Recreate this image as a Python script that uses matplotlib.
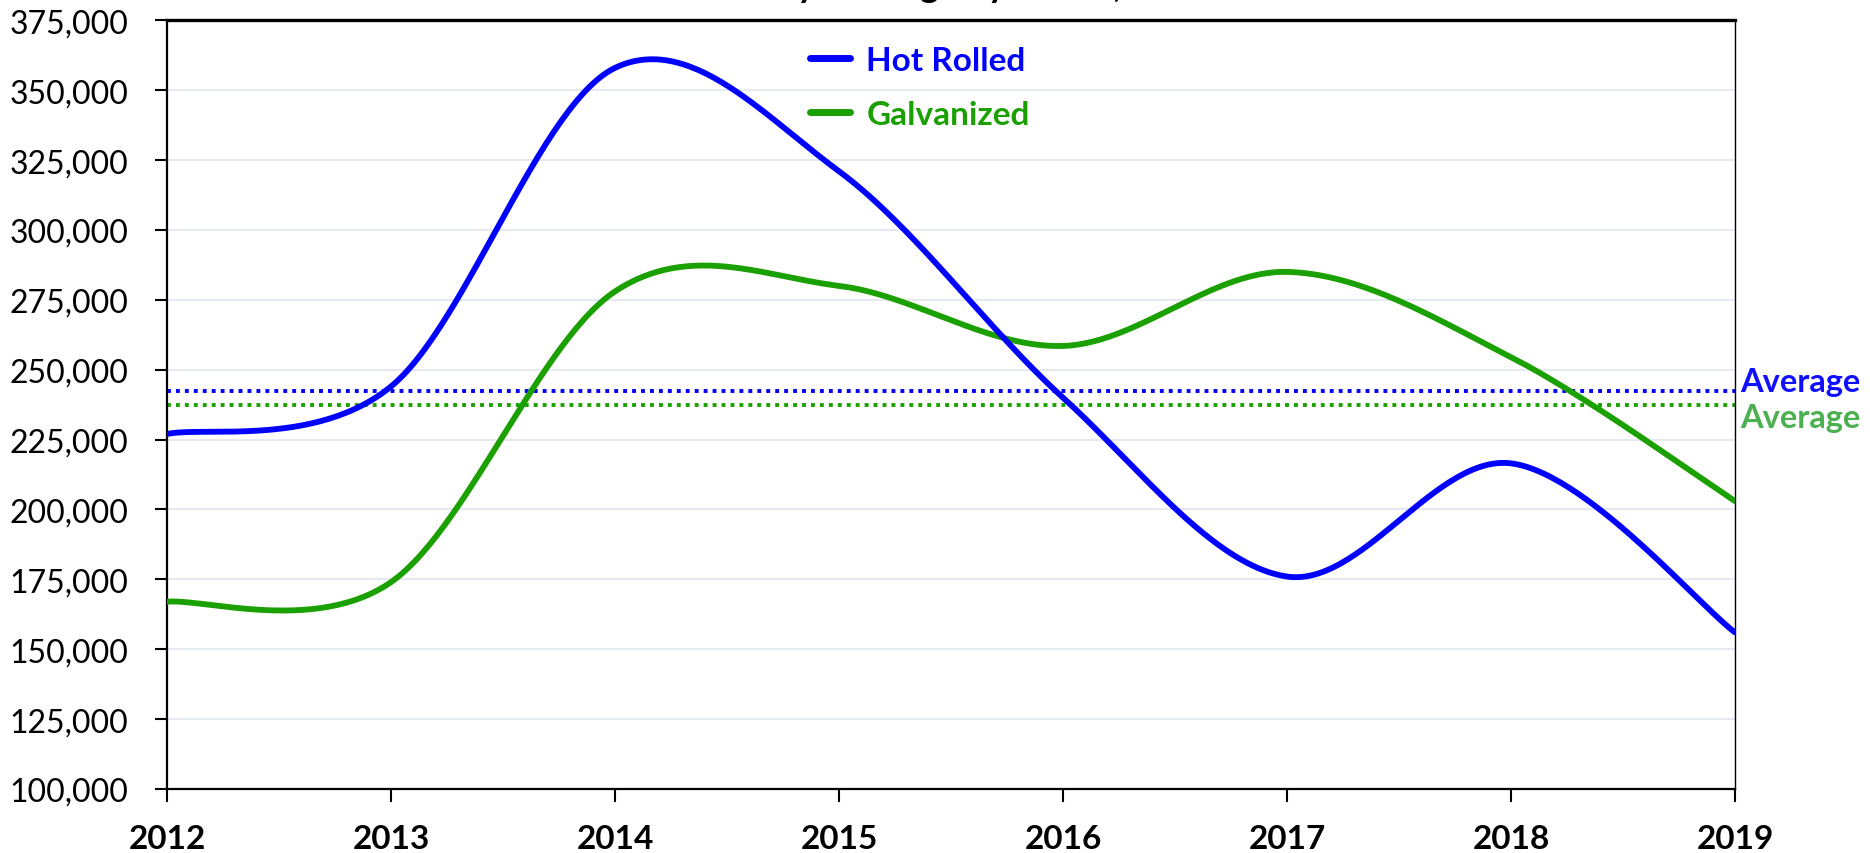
import numpy as np
import matplotlib
matplotlib.use("Agg")
import matplotlib.pyplot as plt
from matplotlib.ticker import FuncFormatter, MultipleLocator

plt.rcParams["font.family"] = ["Lato", "DejaVu Sans"]

years = [2012, 2013, 2014, 2015, 2016, 2017, 2018, 2019]
hot_rolled = [227000, 244000, 358000, 321000, 240000, 176000, 216500, 156000]
galvanized = [167000, 174000, 278000, 280000, 258500, 285000, 254500, 203000]

BLUE = "#0000ff"
GREEN = "#1aa000"


def excel_smooth(x, y, n=60):
    """Bezier smoothing like Excel's 'smoothed line' (Catmull-Rom controls)."""
    x = np.asarray(x, float)
    y = np.asarray(y, float)
    px = np.concatenate([[x[0]], x, [x[-1]]])
    py = np.concatenate([[y[0]], y, [y[-1]]])
    t = np.linspace(0, 1, n)
    xs, ys = [], []
    for i in range(len(x) - 1):
        p0 = np.array([px[i + 1], py[i + 1]])
        p3 = np.array([px[i + 2], py[i + 2]])
        c1 = p0 + (np.array([px[i + 2], py[i + 2]]) - np.array([px[i], py[i]])) / 6
        c2 = p3 - (np.array([px[i + 3], py[i + 3]]) - np.array([px[i + 1], py[i + 1]])) / 6
        b = ((1 - t) ** 3)[:, None] * p0 + (3 * (1 - t) ** 2 * t)[:, None] * c1 \
            + (3 * (1 - t) * t ** 2)[:, None] * c2 + (t ** 3)[:, None] * p3
        xs.append(b[:, 0])
        ys.append(b[:, 1])
    return np.concatenate(xs), np.concatenate(ys)


fig = plt.figure(figsize=(18.7, 8.54), dpi=100)
ax = fig.add_axes([0.0893, 0.075, 0.8385, 0.9])

hx, hy = excel_smooth(years, hot_rolled)
gx, gy = excel_smooth(years, galvanized)
ax.plot(hx, hy, color=BLUE, lw=4.2, label="Hot Rolled", zorder=4, solid_capstyle="round")
ax.plot(gx, gy, color=GREEN, lw=4.2, label="Galvanized", zorder=3, solid_capstyle="round")

hr_avg = np.mean(hot_rolled)
gv_avg = np.mean(galvanized)
ax.plot([years[0], years[-1]], [hr_avg, hr_avg], color=BLUE, lw=2.8,
        linestyle=(0, (1, 1.3)), dash_capstyle="butt", zorder=2)
ax.plot([years[0], years[-1]], [gv_avg, gv_avg], color=GREEN, lw=2.8,
        linestyle=(0, (1, 1.3)), dash_capstyle="butt", zorder=2)

ax.text(1.003, hr_avg + 3500, "Average", transform=ax.get_yaxis_transform(),
        color="#1010ff", fontsize=23.5, fontweight="bold", va="center", ha="left")
ax.text(1.003, gv_avg - 4500, "Average", transform=ax.get_yaxis_transform(),
        color="#4caf50", fontsize=23.5, fontweight="bold", va="center", ha="left")

ax.set_xlim(years[0], years[-1])
ax.set_ylim(100000, 375000)
ax.set_xticks(years)
ax.yaxis.set_major_locator(MultipleLocator(25000))
ax.yaxis.set_major_formatter(FuncFormatter(lambda v, p: f"{int(v):,}"))

ax.grid(axis="y", color="#e0e6f0", lw=1.2)
ax.set_axisbelow(True)

for lab in ax.get_xticklabels():
    lab.set_fontweight("bold")
ax.tick_params(axis="x", labelsize=24, length=9, width=1.5, pad=16, direction="out")
ax.tick_params(axis="y", labelsize=23, length=9, width=1.5, pad=19, direction="out")

ax.spines["top"].set_linewidth(2.4)
ax.spines["left"].set_linewidth(1.6)
ax.spines["bottom"].set_linewidth(1.6)
ax.spines["right"].set_linewidth(1.0)

leg = ax.legend(loc="upper left", bbox_to_anchor=(0.417, 0.98), bbox_transform=fig.transFigure,
                frameon=False, handlelength=1.2, handletextpad=0.5,
                labelspacing=0.75, prop={"weight": "bold", "size": 24})
for txt, col in zip(leg.get_texts(), [BLUE, GREEN]):
    txt.set_color(col)
for h in leg.get_lines():
    h.set_linewidth(5)

# title sits mostly above the canvas, as in the source image
fig.text(0.505, 1.003, "Monthly Average by Grade, Tons", ha="center", va="baseline",
         fontsize=26, fontweight="bold")

fig.savefig("out.png", dpi=100)
